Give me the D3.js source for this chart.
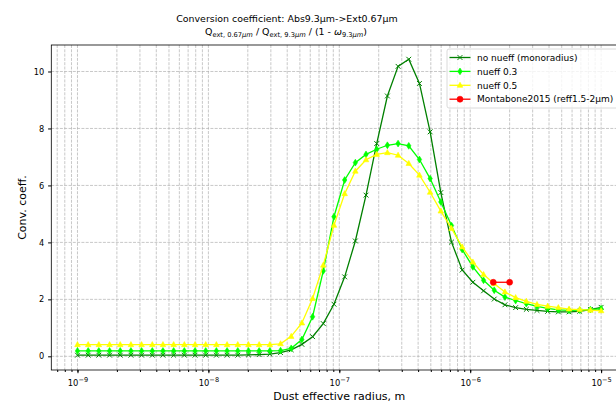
<!DOCTYPE html>
<html>
<head>
<meta charset="utf-8">
<script src="https://cdn.jsdelivr.net/npm/d3@7"></script>
<style>
  body { margin: 0; background: #fff; }
  text { font-family: "DejaVu Sans", sans-serif; fill: #000; }
</style>
</head>
<body>
<div id="chart"></div>
<script>

// Set dimensions and margins for plot
const width = 616;
const height = 401;
const margin = {left: 51.3, right: -11.3, bottom: 31, top: 45};

// Dust effective radius (m), 50 log-spaced points 1e-9 .. 1e-5
const radius = [
  1.000e-9, 1.207e-9, 1.456e-9, 1.758e-9, 2.121e-9, 2.560e-9, 3.089e-9, 3.728e-9, 4.498e-9, 5.429e-9,
  6.551e-9, 7.906e-9, 9.541e-9, 1.151e-8, 1.389e-8, 1.677e-8, 2.024e-8, 2.442e-8, 2.947e-8, 3.557e-8,
  4.292e-8, 5.179e-8, 6.251e-8, 7.543e-8, 9.103e-8, 1.099e-7, 1.326e-7, 1.600e-7, 1.931e-7, 2.330e-7,
  2.812e-7, 3.393e-7, 4.095e-7, 4.942e-7, 5.964e-7, 7.197e-7, 8.685e-7, 1.048e-6, 1.265e-6, 1.526e-6,
  1.842e-6, 2.223e-6, 2.683e-6, 3.237e-6, 3.907e-6, 4.715e-6, 5.690e-6, 6.866e-6, 8.286e-6, 1.000e-5
];

// Conversion coefficient, no nueff (monoradius)
const noNueff = [
  0.04, 0.04, 0.04, 0.04, 0.04, 0.04, 0.04, 0.04, 0.04, 0.04,
  0.04, 0.04, 0.04, 0.04, 0.04, 0.04, 0.05, 0.06, 0.08, 0.13,
  0.23, 0.42, 0.69, 1.15, 1.83, 2.79, 4.05, 5.66, 7.47, 9.14,
  10.18, 10.43, 9.58, 7.88, 5.75, 4.01, 3.03, 2.60, 2.30, 2.01,
  1.81, 1.71, 1.65, 1.61, 1.58, 1.56, 1.56, 1.58, 1.64, 1.72
];

// Conversion coefficient, nueff 0.3
const nueff03 = [
  0.19, 0.19, 0.19, 0.19, 0.19, 0.19, 0.19, 0.19, 0.19, 0.19,
  0.19, 0.19, 0.19, 0.19, 0.19, 0.19, 0.19, 0.19, 0.19, 0.20,
  0.28, 0.59, 1.39, 3.00, 4.90, 6.19, 6.80, 7.09, 7.27, 7.41,
  7.47, 7.39, 6.91, 6.24, 5.42, 4.59, 3.75, 3.14, 2.67, 2.32,
  2.08, 1.96, 1.85, 1.75, 1.68, 1.63, 1.61, 1.62, 1.64, 1.67
];

// Conversion coefficient, nueff 0.5
const nueff05 = [
  0.41, 0.41, 0.41, 0.41, 0.41, 0.41, 0.41, 0.41, 0.41, 0.41,
  0.41, 0.41, 0.41, 0.41, 0.41, 0.41, 0.41, 0.41, 0.41, 0.44,
  0.70, 1.17, 2.03, 3.20, 4.60, 5.71, 6.50, 6.90, 7.09, 7.15,
  7.06, 6.77, 6.36, 5.76, 5.10, 4.49, 3.84, 3.31, 2.87, 2.55,
  2.26, 2.06, 1.93, 1.82, 1.76, 1.71, 1.66, 1.64, 1.62, 1.60
];

// Montabone2015 reference (reff 1.5-2 um)
const montaboneRadius = [1.5e-6, 2.0e-6];
const montaboneValue = [2.6, 2.6];

const yTicks = [0, 2, 4, 6, 8, 10];
const xMajorTicks = [1e-9, 1e-8, 1e-7, 1e-6, 1e-5];
const xTickExp = ["\u22129", "\u22128", "\u22127", "\u22126", "\u22125"];

const seriesNames = ["no nueff (monoradius)", "nueff 0.3", "nueff 0.5", "Montabone2015 (reff1.5-2\u03bcm)"];
const seriesColors = ["#008000", "#00ff00", "#ffff00", "#ff0000"];
const seriesMarkers = ["x", "d", "^", "o"];

// build the series table from the arrays
const series = [
  {name: seriesNames[0], color: seriesColors[0], marker: seriesMarkers[0], pts: radius.map((r, i) => ({r: r, v: noNueff[i]}))},
  {name: seriesNames[1], color: seriesColors[1], marker: seriesMarkers[1], pts: radius.map((r, i) => ({r: r, v: nueff03[i]}))},
  {name: seriesNames[2], color: seriesColors[2], marker: seriesMarkers[2], pts: radius.map((r, i) => ({r: r, v: nueff05[i]}))},
  {name: seriesNames[3], color: seriesColors[3], marker: seriesMarkers[3], pts: montaboneRadius.map((r, i) => ({r: r, v: montaboneValue[i]}))}
];

const svg = d3.select("#chart")
  .append("svg")
  .attr("width", width)
  .attr("height", height);

/*

  Scales

*/

const xScale = d3.scaleLog()
  .domain([Math.pow(10, -9.2), Math.pow(10, -4.8)])
  .range([margin.left, width - margin.right]);

const yScale = d3.scaleLinear()
  .domain([-0.48, 10.93])
  .range([height - margin.bottom, margin.top]);

const x0 = margin.left, x1 = width - margin.right;
const y0 = margin.top, y1 = height - margin.bottom;

/*

  Grid

*/

const allXTicks = xScale.ticks().filter(t => xScale(t) > x0 && xScale(t) < x1);

svg.append("g")
  .selectAll("line")
  .data(allXTicks)
  .enter()
  .append("line")
    .attr("x1", d => xScale(d))
    .attr("x2", d => xScale(d))
    .attr("y1", y0)
    .attr("y2", y1)
    .attr("stroke", "#b0b0b0")
    .attr("stroke-width", 0.7)
    .attr("stroke-dasharray", "3,1.3");

svg.append("g")
  .selectAll("line")
  .data(yTicks)
  .enter()
  .append("line")
    .attr("x1", x0)
    .attr("x2", x1)
    .attr("y1", d => yScale(d))
    .attr("y2", d => yScale(d))
    .attr("stroke", "#b0b0b0")
    .attr("stroke-width", 0.7)
    .attr("stroke-dasharray", "3,1.3");

/*

  Axes

*/

// minor ticks on x
svg.append("g")
  .attr("transform", `translate(0,${y1})`)
  .call(d3.axisBottom(xScale).tickValues(allXTicks).tickSize(2).tickFormat(""))
  .call(g => g.select(".domain").remove());

// major ticks on x with 10^n labels
const xAxis = svg.append("g")
  .attr("transform", `translate(0,${y1})`)
  .call(d3.axisBottom(xScale).tickValues(xMajorTicks).tickSize(3.2).tickPadding(3).tickFormat(""));
xAxis.select(".domain").remove();
xAxis.selectAll(".tick text").remove();
xAxis.selectAll(".tick").each(function(d, i) {
  const t = d3.select(this).append("text")
    .attr("y", 15.5)
    .attr("text-anchor", "middle")
    .attr("font-size", "8.4px");
  t.append("tspan").text("10");
  t.append("tspan").attr("dy", -3.8).attr("font-size", "6.6px").text(xTickExp[i]);
});

const yAxis = svg.append("g")
  .attr("transform", `translate(${x0},0)`)
  .call(d3.axisLeft(yScale).tickValues(yTicks).tickSize(3.2).tickPadding(4));
yAxis.select(".domain").remove();
yAxis.selectAll(".tick text")
  .attr("font-size", "8.2px")
  .attr("font-family", "DejaVu Sans");

// frame
svg.append("rect")
  .attr("x", x0)
  .attr("y", y0)
  .attr("width", x1 - x0)
  .attr("height", y1 - y0)
  .attr("fill", "none")
  .attr("stroke", "#000")
  .attr("stroke-width", 0.8);

/*

  Lines and markers

*/

function drawMarker(g, type, color) {
  if (type === "x") {
    g.append("path").attr("d", "M-2.4,-2.4L2.4,2.4M-2.4,2.4L2.4,-2.4")
      .attr("stroke", color).attr("stroke-width", 1).attr("fill", "none");
  } else if (type === "d") {
    g.append("path").attr("d", "M0,-3.4L2.2,0L0,3.4L-2.2,0Z").attr("fill", color).attr("stroke", color).attr("stroke-width", 0.6);
  } else if (type === "^") {
    g.append("path").attr("d", "M0,-3.1L2.8,2L-2.8,2Z").attr("fill", color).attr("stroke", color).attr("stroke-width", 0.6);
  } else {
    g.append("circle").attr("r", 3).attr("fill", color).attr("stroke", color).attr("stroke-width", 0.6);
  }
}

const line = d3.line()
  .x(d => xScale(d.r))
  .y(d => yScale(d.v));

series.forEach(s => {
  svg.append("path")
    .datum(s.pts)
    .attr("d", line)
    .attr("fill", "none")
    .attr("stroke", s.color)
    .attr("stroke-width", 1.3);

  svg.append("g")
    .selectAll("g")
    .data(s.pts)
    .enter()
    .append("g")
      .attr("transform", d => `translate(${xScale(d.r)},${yScale(d.v)})`)
      .each(function() { drawMarker(d3.select(this), s.marker, s.color); });
});

/*

  Legend

*/

const legend = svg.append("g");
legend.append("rect")
  .attr("x", 447)
  .attr("y", 49)
  .attr("width", 180)
  .attr("height", 59)
  .attr("rx", 2)
  .attr("fill", "#fff")
  .attr("fill-opacity", 0.8)
  .attr("stroke", "#d0d0d0")
  .attr("stroke-width", 0.8);

series.forEach((s, i) => {
  const ly = 57.5 + i * 13.9;
  legend.append("line")
    .attr("x1", 449.5).attr("x2", 470.5)
    .attr("y1", ly).attr("y2", ly)
    .attr("stroke", s.color).attr("stroke-width", 1.3);
  drawMarker(legend.append("g").attr("transform", `translate(460,${ly})`), s.marker, s.color);
  legend.append("text")
    .attr("x", 477)
    .attr("y", ly + 3.2)
    .attr("font-size", "9px")
    .text(s.name);
});

/*

  Titles and labels

*/

svg.append("text")
  .attr("x", 287)
  .attr("y", 22)
  .attr("text-anchor", "middle")
  .attr("font-size", "9.45px")
  .text("Conversion coefficient: Abs9.3\u03bcm->Ext0.67\u03bcm");

const sub = svg.append("text")
  .attr("x", 286)
  .attr("y", 35)
  .attr("text-anchor", "middle")
  .attr("font-size", "9.45px");
sub.append("tspan").text("Q");
sub.append("tspan").attr("dy", 2).attr("font-size", "6.7px").text("ext, 0.67");
sub.append("tspan").attr("font-size", "6.7px").attr("font-style", "italic").text("\u03bcm");
sub.append("tspan").attr("dy", -2).text(" / Q");
sub.append("tspan").attr("dy", 2).attr("font-size", "6.7px").text("ext, 9.3");
sub.append("tspan").attr("font-size", "6.7px").attr("font-style", "italic").text("\u03bcm");
sub.append("tspan").attr("dy", -2).text(" / (1 - ");
sub.append("tspan").attr("font-style", "italic").text("\u03c9");
sub.append("tspan").attr("dy", 2).attr("font-size", "6.7px").text("9.3");
sub.append("tspan").attr("font-size", "6.7px").attr("font-style", "italic").text("\u03bcm");
sub.append("tspan").attr("dy", -2).text(")");

svg.append("text")
  .attr("x", (x0 + x1) / 2)
  .attr("y", 399.5)
  .attr("text-anchor", "middle")
  .attr("font-size", "11px")
  .text("Dust effective radius, m");

svg.append("text")
  .attr("transform", `translate(26,${(y0 + y1) / 2}) rotate(-90)`)
  .attr("text-anchor", "middle")
  .attr("font-size", "11px")
  .text("Conv. coeff.");

</script>
</body>
</html>
